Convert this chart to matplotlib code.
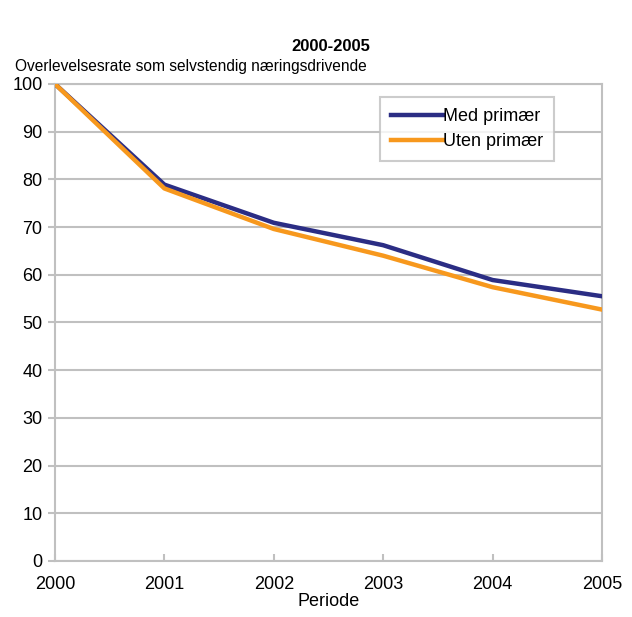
import matplotlib
matplotlib.use('Agg')
import matplotlib.pyplot as plt

plt.rcParams['font.family'] = ['Liberation Sans', 'DejaVu Sans']

years = [2000, 2001, 2002, 2003, 2004, 2005]
med_primaer = [100, 78.9, 70.9, 66.2, 58.9, 55.5]
uten_primaer = [100, 78.1, 69.6, 64.0, 57.4, 52.7]

fig = plt.figure(figsize=(6.32, 6.17), dpi=100)
ax = fig.add_axes([0.087, 0.0908, 0.8655, 0.7731])

grey = '#c0c0c0'
ax.plot(years, med_primaer, color='#2b2d84', lw=3.2, label='Med primær', zorder=3)
ax.plot(years, uten_primaer, color='#f7981d', lw=3.2, label='Uten primær', zorder=3)

ax.set_xlim(2000, 2005)
ax.set_ylim(0, 100)
ax.set_yticks(range(0, 101, 10))
ax.set_xticks(years)
ax.grid(axis='y', color=grey, lw=1.5)
for s in ax.spines.values():
    s.set_color(grey)
    s.set_linewidth(1.5)
ax.tick_params(axis='y', direction='out', length=5, color=grey, width=1.5, labelsize=13, pad=4)
ax.tick_params(axis='x', direction='in', length=5, color=grey, width=1.5, labelsize=13, pad=11)

ax.set_xlabel('Periode', fontsize=13, labelpad=0)
fig.text(0.024, 0.893, 'Overlevelsesrate som selvstendig næringsdrivende', fontsize=11.2, va='center')
fig.text(0.523, 0.925, '2000-2005', fontsize=12, fontweight='bold', ha='center', va='center')

leg = ax.legend(loc='upper right', bbox_to_anchor=(0.913, 0.972), fontsize=13, frameon=True,
                fancybox=False, edgecolor=grey, handlelength=2.9, handletextpad=0.0,
                borderpad=0.6, labelspacing=0.45, borderaxespad=0)
leg.get_frame().set_linewidth(1.5)

fig.savefig('out.png', dpi=100)
